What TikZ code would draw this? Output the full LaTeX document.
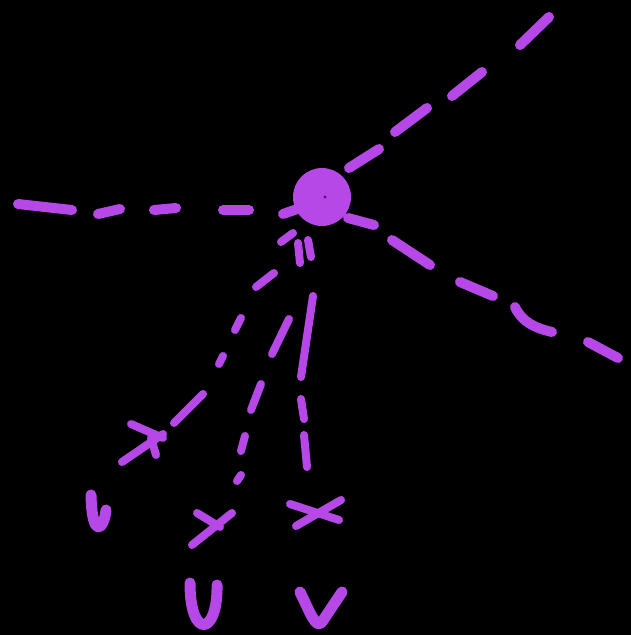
\documentclass[tikz,border=0pt]{standalone}
\definecolor{ink}{RGB}{182,72,232}
\definecolor{inkdark}{RGB}{90,20,110}
\begin{document}
\begin{tikzpicture}[x=1pt,y=-1pt,
  stroke/.style={draw=ink, line width=10pt, line cap=round, line join=round},
  thin stroke/.style={draw=ink, line width=8pt, line cap=round, line join=round},
  letter/.style={draw=ink, line width=11pt, line cap=round, line join=round}]
\fill[black] (0,0) rectangle (631,635);
\useasboundingbox (0,0) rectangle (631,635);
% hub
\node[circle, fill=ink, minimum size=58pt, inner sep=0pt] (hub) at (322,197) {};
\fill[inkdark] (hub.center) ++(3,0) circle (1.6);
\draw[stroke] (283,214) -- (300,208);
\draw[stroke] (348,218) -- (374,225);
% upper-right spoke
\draw[stroke] (349,168) -- (379,149);
\draw[stroke] (395,132) -- (427,108);
\draw[stroke] (452,96) -- (482,72);
\draw[stroke] (520,45) -- (549,17);
% left spoke
\draw[stroke] (18,204) -- (72,210);
\draw[stroke] (98,214) -- (120,209);
\draw[stroke] (154,210) -- (176,208);
\draw[stroke] (223,210) -- (249,210);
% lower-right spoke
\draw[stroke] (392,240) -- (430,265);
\draw[stroke] (460,282) -- (493,296);
\draw[stroke] (515,307) .. controls (522,322) and (535,328) .. (552,332);
\draw[stroke] (588,342) -- (618,358);
% short strokes under hub
\draw[thin stroke] (281,242) -- (293,233);
\draw[thin stroke] (298,243) -- (300,263);
\draw[thin stroke] (308,240) -- (311,257);
% spoke A
\draw[thin stroke] (256,287) -- (274,273);
\draw[thin stroke] (235,330) -- (241,318);
\draw[thin stroke] (219,364) -- (223,356);
\draw[thin stroke] (174,423) -- (203,394);
% X A
\draw[thin stroke] (131,424) -- (163,438);
\draw[thin stroke] (122,462) -- (163,434);
\draw[thin stroke] (151,438) -- (156,455);
% v A
\draw[letter] (91,495) .. controls (92,540) and (104,530) .. (106,510);
% spoke B
\draw[thin stroke] (272,354) -- (289,319);
\draw[thin stroke] (251,410) -- (261,384);
\draw[thin stroke] (241,451) -- (245,436);
\draw[thin stroke] (237,481) -- (241,475);
% X B
\draw[thin stroke] (197,513) -- (220,527);
\draw[thin stroke] (192,545) -- (232,513);
% U B
\draw[letter] (190,583) .. controls (190,640) and (218,636) .. (217,585);
% spoke C
\draw[thin stroke] (313,296) -- (301,377);
\draw[thin stroke] (301,399) -- (304,419);
\draw[thin stroke] (304,435) -- (307,467);
% X C
\draw[thin stroke] (290,504) -- (339,520);
\draw[thin stroke] (296,526) -- (341,500);
% V C
\draw[letter] (300,592) .. controls (310,612) and (316,630) .. (322,622) .. controls (330,610) .. (342,592);
\end{tikzpicture}
\end{document}
